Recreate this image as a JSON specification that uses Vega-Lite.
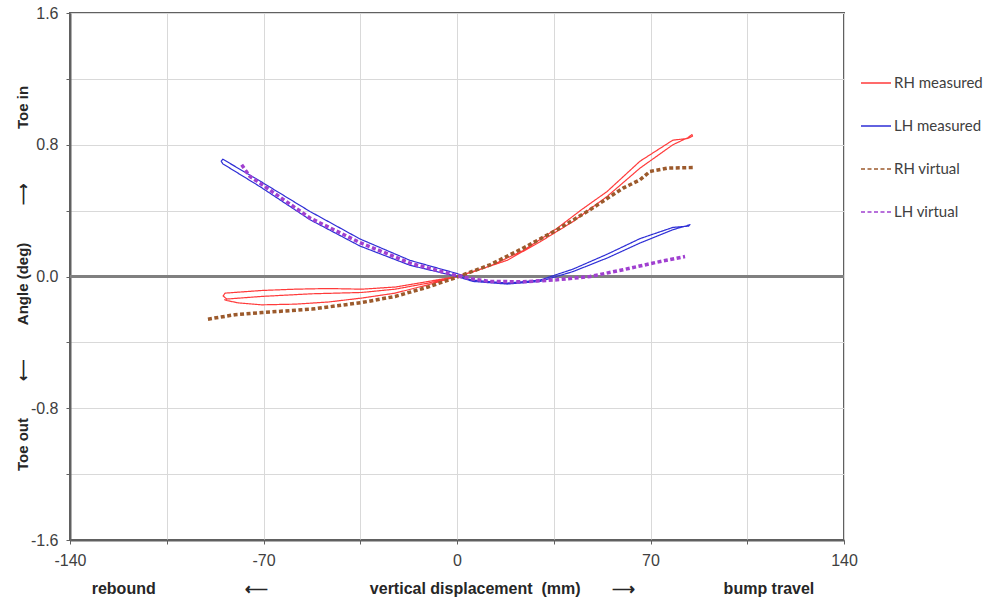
{
  "$schema": "https://vega.github.io/schema/vega-lite/v6.json",
  "width": 774,
  "height": 527,
  "autosize": {"type": "none"},
  "padding": {"left": 70, "top": 13, "right": 146, "bottom": 61},
  "background": "white",
  "config": {"view": {"stroke": "#606060", "strokeWidth": 2}, "font": "Liberation Sans"},
  "data": {"values": [
    {"s":"RH measured","i":0,"x":0,"y":0},
    {"s":"RH measured","i":1,"x":5.8,"y":0.028},
    {"s":"RH measured","i":2,"x":18.1,"y":0.098},
    {"s":"RH measured","i":3,"x":30.0,"y":0.210},
    {"s":"RH measured","i":4,"x":42.0,"y":0.334},
    {"s":"RH measured","i":5,"x":54.3,"y":0.486},
    {"s":"RH measured","i":6,"x":66.2,"y":0.658},
    {"s":"RH measured","i":7,"x":78.1,"y":0.800},
    {"s":"RH measured","i":8,"x":83.5,"y":0.843},
    {"s":"RH measured","i":9,"x":85.0,"y":0.862},
    {"s":"RH measured","i":10,"x":85.2,"y":0.852},
    {"s":"RH measured","i":11,"x":83.5,"y":0.838},
    {"s":"RH measured","i":12,"x":78.1,"y":0.828},
    {"s":"RH measured","i":13,"x":66.2,"y":0.700},
    {"s":"RH measured","i":14,"x":54.3,"y":0.516},
    {"s":"RH measured","i":15,"x":45.0,"y":0.405},
    {"s":"RH measured","i":16,"x":36.0,"y":0.290},
    {"s":"RH measured","i":17,"x":24.0,"y":0.158},
    {"s":"RH measured","i":18,"x":12.0,"y":0.064},
    {"s":"RH measured","i":19,"x":0,"y":0},
    {"s":"RH measured","i":20,"x":-10.4,"y":-0.030},
    {"s":"RH measured","i":21,"x":-22.4,"y":-0.064},
    {"s":"RH measured","i":22,"x":-34.5,"y":-0.077},
    {"s":"RH measured","i":23,"x":-46.6,"y":-0.073},
    {"s":"RH measured","i":24,"x":-58.6,"y":-0.077},
    {"s":"RH measured","i":25,"x":-70.7,"y":-0.085},
    {"s":"RH measured","i":26,"x":-83.9,"y":-0.101},
    {"s":"RH measured","i":27,"x":-84.6,"y":-0.118},
    {"s":"RH measured","i":28,"x":-83.3,"y":-0.137},
    {"s":"RH measured","i":29,"x":-70.7,"y":-0.121},
    {"s":"RH measured","i":30,"x":-52.6,"y":-0.105},
    {"s":"RH measured","i":31,"x":-34.5,"y":-0.097},
    {"s":"RH measured","i":32,"x":-22.4,"y":-0.077},
    {"s":"RH measured","i":33,"x":-10.4,"y":-0.040},
    {"s":"RH measured","i":34,"x":0,"y":0},
    {"s":"RH measured","i":35,"x":-10.4,"y":-0.050},
    {"s":"RH measured","i":36,"x":-22.4,"y":-0.101},
    {"s":"RH measured","i":37,"x":-34.5,"y":-0.131},
    {"s":"RH measured","i":38,"x":-46.6,"y":-0.155},
    {"s":"RH measured","i":39,"x":-58.6,"y":-0.168},
    {"s":"RH measured","i":40,"x":-70.7,"y":-0.172},
    {"s":"RH measured","i":41,"x":-79.2,"y":-0.160},
    {"s":"RH measured","i":42,"x":-83.2,"y":-0.146},
    {"s":"RH measured","i":43,"x":-84.2,"y":-0.140},
    {"s":"LH measured","i":0,"x":0,"y":0},
    {"s":"LH measured","i":1,"x":5.8,"y":-0.030},
    {"s":"LH measured","i":2,"x":18.1,"y":-0.046},
    {"s":"LH measured","i":3,"x":30.0,"y":-0.030},
    {"s":"LH measured","i":4,"x":42.0,"y":0.030},
    {"s":"LH measured","i":5,"x":54.3,"y":0.112},
    {"s":"LH measured","i":6,"x":66.2,"y":0.203},
    {"s":"LH measured","i":7,"x":78.1,"y":0.284},
    {"s":"LH measured","i":8,"x":83.0,"y":0.308},
    {"s":"LH measured","i":9,"x":84.3,"y":0.315},
    {"s":"LH measured","i":10,"x":83.8,"y":0.306},
    {"s":"LH measured","i":11,"x":78.1,"y":0.298},
    {"s":"LH measured","i":12,"x":66.2,"y":0.230},
    {"s":"LH measured","i":13,"x":54.3,"y":0.135},
    {"s":"LH measured","i":14,"x":42.0,"y":0.045},
    {"s":"LH measured","i":15,"x":30.0,"y":-0.022},
    {"s":"LH measured","i":16,"x":18.1,"y":-0.040},
    {"s":"LH measured","i":17,"x":5.8,"y":-0.022},
    {"s":"LH measured","i":18,"x":0,"y":0},
    {"s":"LH measured","i":19,"x":-17.0,"y":0.068},
    {"s":"LH measured","i":20,"x":-35.1,"y":0.185},
    {"s":"LH measured","i":21,"x":-53.2,"y":0.345},
    {"s":"LH measured","i":22,"x":-71.3,"y":0.546},
    {"s":"LH measured","i":23,"x":-84.7,"y":0.684},
    {"s":"LH measured","i":24,"x":-85.3,"y":0.700},
    {"s":"LH measured","i":25,"x":-84.7,"y":0.712},
    {"s":"LH measured","i":26,"x":-71.3,"y":0.580},
    {"s":"LH measured","i":27,"x":-53.2,"y":0.395},
    {"s":"LH measured","i":28,"x":-35.1,"y":0.228},
    {"s":"LH measured","i":29,"x":-17.0,"y":0.098},
    {"s":"LH measured","i":30,"x":0,"y":0.018},
    {"s":"LH measured","i":31,"x":3,"y":0.0},
    {"s":"RH virtual","i":0,"x":-90.1,"y":-0.259},
    {"s":"RH virtual","i":1,"x":-80.3,"y":-0.232},
    {"s":"RH virtual","i":2,"x":-70.5,"y":-0.219},
    {"s":"RH virtual","i":3,"x":-52.5,"y":-0.198},
    {"s":"RH virtual","i":4,"x":-34.4,"y":-0.158},
    {"s":"RH virtual","i":5,"x":-22.4,"y":-0.121},
    {"s":"RH virtual","i":6,"x":-10.5,"y":-0.064},
    {"s":"RH virtual","i":7,"x":0,"y":-0.004},
    {"s":"RH virtual","i":8,"x":11.9,"y":0.071},
    {"s":"RH virtual","i":9,"x":23.9,"y":0.172},
    {"s":"RH virtual","i":10,"x":36.2,"y":0.284},
    {"s":"RH virtual","i":11,"x":48.1,"y":0.405},
    {"s":"RH virtual","i":12,"x":60.1,"y":0.537},
    {"s":"RH virtual","i":13,"x":66.2,"y":0.587},
    {"s":"RH virtual","i":14,"x":69.8,"y":0.638},
    {"s":"RH virtual","i":15,"x":76.0,"y":0.658},
    {"s":"RH virtual","i":16,"x":86.1,"y":0.662},
    {"s":"LH virtual","i":0,"x":-77.9,"y":0.678},
    {"s":"LH virtual","i":1,"x":-74.9,"y":0.607},
    {"s":"LH virtual","i":2,"x":-71.3,"y":0.567},
    {"s":"LH virtual","i":3,"x":-53.2,"y":0.355},
    {"s":"LH virtual","i":4,"x":-35.1,"y":0.206},
    {"s":"LH virtual","i":5,"x":-17.0,"y":0.081},
    {"s":"LH virtual","i":6,"x":0,"y":0.005},
    {"s":"LH virtual","i":7,"x":5.8,"y":-0.015},
    {"s":"LH virtual","i":8,"x":11.9,"y":-0.030},
    {"s":"LH virtual","i":9,"x":23.9,"y":-0.032},
    {"s":"LH virtual","i":10,"x":36.2,"y":-0.020},
    {"s":"LH virtual","i":11,"x":48.1,"y":0.000},
    {"s":"LH virtual","i":12,"x":60.1,"y":0.041},
    {"s":"LH virtual","i":13,"x":72.4,"y":0.087},
    {"s":"LH virtual","i":14,"x":82.5,"y":0.121}
  ]},
  "layer": [
    {
      "mark": {"type": "rule", "color": "#808080", "strokeWidth": 1.5},
      "encoding": {"y": {"datum": 0, "type": "quantitative"}}
    },
    {
      "encoding": {
        "x": {
          "field": "x", "type": "quantitative",
          "scale": {"domain": [-140, 140], "nice": false, "zero": false},
          "axis": {
            "values": [-140, -105, -70, -35, 0, 35, 70, 105, 140],
            "labelExpr": "datum.value % 70 == 0 ? toString(datum.value) : ''",
            "grid": true, "gridColor": "#d9d9d9", "gridWidth": 1,
            "domainColor": "#606060", "domainWidth": 2,
            "tickColor": "#606060", "tickSize": 4,
            "labelFont": "Liberation Sans", "labelFontSize": 16, "labelColor": "#404040", "labelPadding": 8,
            "labelFlush": false,
            "title": "rebound\u00a0\u00a0\u00a0\u00a0\u00a0\u00a0\u00a0\u00a0\u00a0\u00a0\u00a0\u00a0\u00a0\u00a0\u00a0\u00a0\u00a0\u00a0\u00a0\u00a0⟵\u00a0\u00a0\u00a0\u00a0\u00a0\u00a0\u00a0\u00a0\u00a0\u00a0\u00a0\u00a0\u00a0\u00a0\u00a0\u00a0\u00a0\u00a0\u00a0\u00a0\u00a0\u00a0\u00a0vertical displacement\u00a0\u00a0(mm)\u00a0\u00a0\u00a0\u00a0\u00a0\u00a0\u00a0⟶\u00a0\u00a0\u00a0\u00a0\u00a0\u00a0\u00a0\u00a0\u00a0\u00a0\u00a0\u00a0\u00a0\u00a0\u00a0\u00a0\u00a0\u00a0\u00a0\u00a0bump travel",
            "titleFont": "Liberation Sans", "titleFontSize": 16, "titleFontWeight": "bold", "titleColor": "#262626",
            "titleX": 382.5, "titleY": 53, "titleAlign": "center", "titleBaseline": "alphabetic", "titleAnchor": null
          }
        },
        "y": {
          "field": "y", "type": "quantitative",
          "scale": {"domain": [-1.6, 1.6], "nice": false, "zero": false},
          "axis": {
            "values": [-1.6, -1.2, -0.8, -0.4, 0, 0.4, 0.8, 1.2, 1.6],
            "labelExpr": "indexof([-1.6, -0.8, 0, 0.8, 1.6], datum.value) >= 0 ? (datum.value == 0 ? '0.0' : toString(datum.value)) : ''",
            "grid": true, "gridColor": "#d9d9d9", "gridWidth": 1,
            "domainColor": "#606060", "domainWidth": 2,
            "tickColor": "#606060", "tickSize": 4,
            "labelFont": "Liberation Sans", "labelFontSize": 16, "labelColor": "#404040", "labelPadding": 8,
            "labelFlush": false,
            "title": "Toe out\u00a0\u00a0\u00a0\u00a0\u00a0\u00a0\u00a0\u00a0\u00a0⟵\u00a0\u00a0\u00a0\u00a0\u00a0\u00a0\u00a0\u00a0Angle (deg)\u00a0\u00a0\u00a0\u00a0\u00a0\u00a0\u00a0\u00a0\u00a0⟶\u00a0\u00a0\u00a0\u00a0\u00a0\u00a0\u00a0\u00a0\u00a0\u00a0\u00a0\u00a0\u00a0Toe in",
            "titleFont": "Liberation Sans", "titleFontSize": 15, "titleFontWeight": "bold", "titleColor": "#262626",
            "titleX": -48, "titleY": 265, "titleAngle": -90, "titleAlign": "center", "titleBaseline": "middle", "titleAnchor": null
          }
        },
        "order": {"field": "i", "type": "quantitative"},
        "color": {
          "field": "s", "type": "nominal",
          "scale": {"domain": ["RH measured", "LH measured", "RH virtual", "LH virtual"], "range": ["#ff3b3b", "#2f2fd6", "#9c5a2c", "#a040d0"]},
          "legend": {"orient": "none", "legendX": 790, "legendY": 54, "title": null, "symbolType": "stroke", "symbolSize": 900, "symbolStrokeWidth": 1.5, "labelFont": "Lato", "labelFontSize": 15, "labelColor": "#404040", "rowPadding": 19, "labelOffset": 2, "padding": 0}
        },
        "strokeDash": {
          "field": "s", "type": "nominal",
          "scale": {"domain": ["RH measured", "LH measured", "RH virtual", "LH virtual"], "range": [[1, 0], [1, 0], [4, 2.5], [4, 2.5]]},
          "legend": {"orient": "none", "legendX": 790, "legendY": 54, "title": null, "symbolType": "stroke", "symbolSize": 900, "symbolStrokeWidth": 1.5, "labelFont": "Lato", "labelFontSize": 15, "labelColor": "#404040", "rowPadding": 19, "labelOffset": 2, "padding": 0}
        }
      },
      "layer": [
        {
          "transform": [{"filter": "indexof(datum.s, 'measured') >= 0"}],
          "mark": {"type": "line", "interpolate": "linear", "strokeJoin": "round", "strokeWidth": 1.2}
        },
        {
          "transform": [{"filter": "indexof(datum.s, 'virtual') >= 0"}],
          "mark": {"type": "line", "interpolate": "linear", "strokeJoin": "miter", "strokeWidth": 3.5}
        }
      ]
    }
  ]
}
